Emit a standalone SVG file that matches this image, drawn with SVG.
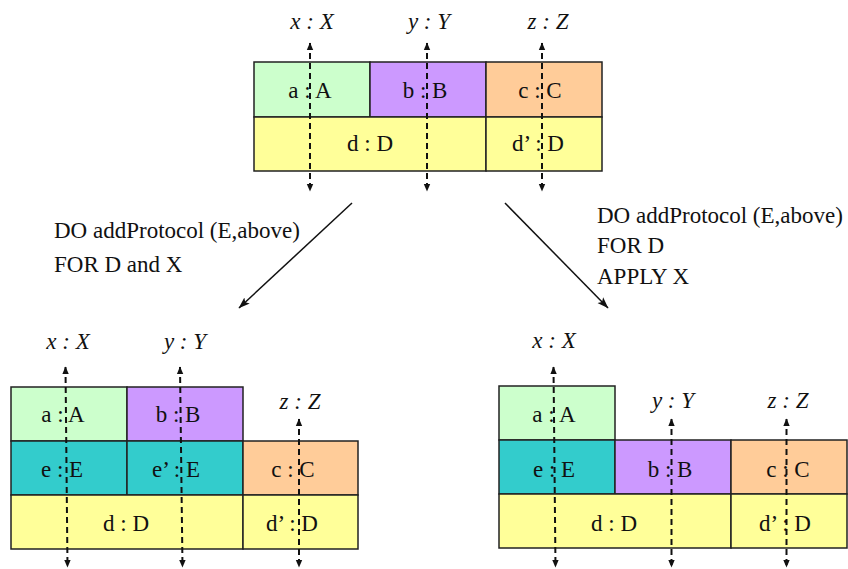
<svg xmlns="http://www.w3.org/2000/svg" width="848" height="569" viewBox="0 0 848 569">
<style>
.box{stroke:#222;stroke-width:1.5}
.g{fill:#CCFFCC}.p{fill:#CC99FF}.o{fill:#FFCC99}.y{fill:#FFFF99}.t{fill:#33CCCC}
text{font-family:"Liberation Serif","Times New Roman",serif;font-size:23px;fill:#111}
.lbl{text-anchor:middle}
.it{font-style:italic;text-anchor:middle}
.dash{stroke:#111;stroke-width:2;stroke-dasharray:6,4;fill:none}
.arr{stroke:#111;stroke-width:1.5;fill:none}
</style>
<defs>
<marker id="sm" markerUnits="userSpaceOnUse" markerWidth="8" markerHeight="8" refX="7" refY="4" orient="auto-start-reverse" viewBox="0 0 8 8">
<path d="M0,0.8 L7.5,4 L0,7.2 Z" fill="#111"/>
</marker>
<marker id="big" markerUnits="userSpaceOnUse" markerWidth="12" markerHeight="10" refX="11" refY="5" orient="auto" viewBox="0 0 12 10">
<path d="M0,1 L11.5,5 L0,9 L2.5,5 Z" fill="#111"/>
</marker>
</defs>

<g id="top-a"><rect class="box g" x="254" y="62" width="116" height="55"/><text class="lbl" x="310" y="98">a : A</text></g>
<g id="top-b"><rect class="box p" x="370" y="62" width="116" height="55"/><text class="lbl" x="425" y="98">b : B</text></g>
<g id="top-c"><rect class="box o" x="486" y="62" width="116" height="55"/><text class="lbl" x="540" y="98">c : C</text></g>
<g id="top-d"><rect class="box y" x="254" y="117" width="232" height="54"/><text class="lbl" x="370" y="151">d : D</text></g>
<g id="top-d2"><rect class="box y" x="486" y="117" width="116" height="54"/><text class="lbl" x="538" y="151">d’ : D</text></g>

<g id="bl-a"><rect class="box g" x="11" y="387" width="116" height="54"/><text class="lbl" x="63" y="422">a : A</text></g>
<g id="bl-b"><rect class="box p" x="127" y="387" width="116" height="54"/><text class="lbl" x="178" y="422">b : B</text></g>
<g id="bl-e"><rect class="box t" x="11" y="441" width="116" height="54"/><text class="lbl" x="62" y="477">e : E</text></g>
<g id="bl-e2"><rect class="box t" x="127" y="441" width="116" height="54"/><text class="lbl" x="176" y="477">e’ : E</text></g>
<g id="bl-c"><rect class="box o" x="243" y="441" width="115" height="54"/><text class="lbl" x="293" y="477">c : C</text></g>
<g id="bl-d"><rect class="box y" x="11" y="495" width="232" height="54"/><text class="lbl" x="126" y="531">d : D</text></g>
<g id="bl-d2"><rect class="box y" x="243" y="495" width="115" height="54"/><text class="lbl" x="292" y="531">d’ : D</text></g>

<g id="br-a"><rect class="box g" x="499" y="386" width="116" height="54"/><text class="lbl" x="554" y="422">a : A</text></g>
<g id="br-e"><rect class="box t" x="499" y="440" width="116" height="54"/><text class="lbl" x="554" y="477">e : E</text></g>
<g id="br-b"><rect class="box p" x="615" y="440" width="116" height="54"/><text class="lbl" x="670" y="477">b : B</text></g>
<g id="br-c"><rect class="box o" x="731" y="440" width="116" height="54"/><text class="lbl" x="788" y="477">c : C</text></g>
<g id="br-d"><rect class="box y" x="499" y="494" width="232" height="54"/><text class="lbl" x="614" y="531">d : D</text></g>
<g id="br-d2"><rect class="box y" x="731" y="494" width="116" height="54"/><text class="lbl" x="785" y="531">d’ : D</text></g>

<g id="labels">
<text class="it" x="312" y="29">x : X</text>
<text class="it" x="429" y="29">y : Y</text>
<text class="it" x="548" y="29">z : Z</text>
<text class="it" x="68" y="349">x : X</text>
<text class="it" x="185" y="349">y : Y</text>
<text class="it" x="300" y="409">z : Z</text>
<text class="it" x="554" y="348">x : X</text>
<text class="it" x="673" y="408">y : Y</text>
<text class="it" x="788" y="408">z : Z</text>
<text x="54" y="238">DO addProtocol (E,above)</text>
<text x="54" y="272">FOR D and X</text>
<text x="597" y="223">DO addProtocol (E,above)</text>
<text x="597" y="253">FOR D</text>
<text x="597" y="284">APPLY X</text>
</g>

<g id="connectors">
<line class="dash" x1="310" y1="43" x2="310" y2="191" marker-start="url(#sm)" marker-end="url(#sm)"/>
<line class="dash" x1="427" y1="43" x2="427" y2="191" marker-start="url(#sm)" marker-end="url(#sm)"/>
<line class="dash" x1="542" y1="43" x2="542" y2="191" marker-start="url(#sm)" marker-end="url(#sm)"/>
<line class="dash" x1="65.5" y1="367" x2="67.5" y2="567" marker-start="url(#sm)" marker-end="url(#sm)"/>
<line class="dash" x1="180" y1="367" x2="182.5" y2="567" marker-start="url(#sm)" marker-end="url(#sm)"/>
<line class="dash" x1="299" y1="419" x2="299" y2="567" marker-start="url(#sm)" marker-end="url(#sm)"/>
<line class="dash" x1="553.5" y1="367" x2="555.5" y2="567" marker-start="url(#sm)" marker-end="url(#sm)"/>
<line class="dash" x1="671.5" y1="419" x2="671.5" y2="567" marker-start="url(#sm)" marker-end="url(#sm)"/>
<line class="dash" x1="786.5" y1="419" x2="786.5" y2="567" marker-start="url(#sm)" marker-end="url(#sm)"/>
<line class="arr" x1="352" y1="203" x2="239" y2="308" marker-end="url(#big)"/>
<line class="arr" x1="505" y1="203" x2="608" y2="308" marker-end="url(#big)"/>
</g>
</svg>
